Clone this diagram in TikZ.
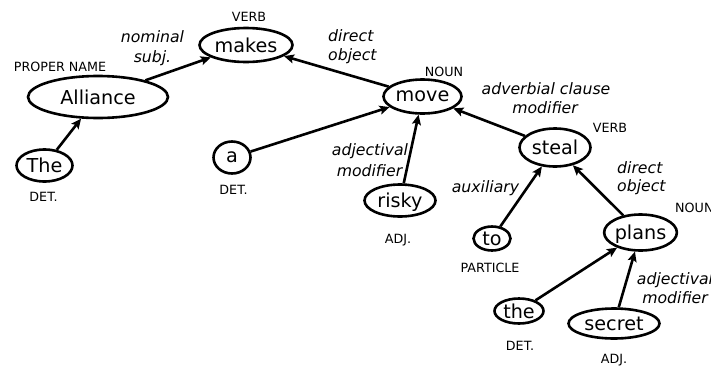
\documentclass[tikz,border=0pt]{standalone}
\usepackage{fontspec}
\setmainfont{DejaVu Sans}
\usetikzlibrary{shapes.geometric,arrows.meta}
\begin{document}
\begin{tikzpicture}[x=1pt,y=-1pt,
  word/.style={draw, ellipse, line width=2.6pt, inner sep=0pt, text depth=0pt, font=\fontsize{19.2}{23}\selectfont},
  postag/.style={inner sep=0pt, text depth=0pt, font=\fontsize{12.7}{15}\selectfont},
  rel/.style={inner sep=0pt, anchor=base, font=\fontsize{15.7}{19}\selectfont\itshape},
  dep/.style={-{Stealth[length=10pt,width=9pt,inset=2pt]}, line width=2.6pt}]
\useasboundingbox (0,0) rectangle (711,367);
% words
\node[word, minimum width=93pt, minimum height=34pt] (makes) at (246,45) {makes};
\node[word, minimum width=140pt, minimum height=42pt] (alliance) at (98,97) {Alliance};
\node[word, minimum width=56pt, minimum height=32pt] (The) at (44.5,165.5) {The};
\node[word, minimum width=37pt, minimum height=32pt] (a) at (232,157.5) {a};
\node[word, minimum width=78pt, minimum height=34pt] (move) at (422.5,96.5) {move};
\node[word, minimum width=71pt, minimum height=32pt] (risky) at (400,200.5) {risky};
\node[word, minimum width=71pt, minimum height=38pt] (steal) at (555,147.5) {steal};
\node[word, minimum width=37pt, minimum height=24pt] (to) at (492,238.5) {to};
\node[word, minimum width=72pt, minimum height=36pt] (plans) at (640.5,232.5) {plans};
\node[word, minimum width=49pt, minimum height=25pt] (the) at (519,311) {the};
\node[word, minimum width=91pt, minimum height=30pt] (secret) at (614,323.5) {secret};
% part-of-speech tags
\node[postag] (pmakes) at (249,17) {VERB};
\node[postag] (palliance) at (60,67) {PROPER NAME};
\node[postag] (pThe) at (43.5,196.5) {DET.};
\node[postag] (pa) at (233.5,190) {DET.};
\node[postag] (pmove) at (444,71.5) {NOUN};
\node[postag] (prisky) at (398,239) {ADJ.};
\node[postag] (psteal) at (610,128) {VERB};
\node[postag] (pto) at (490,267.5) {PARTICLE};
\node[postag, anchor=west] (pplans) at (675,207.5) {NOUN};
\node[postag] (pthe) at (520,346) {DET.};
\node[postag] (psecret) at (614,359) {ADJ.};
% relation labels
\node[rel] (r1a) at (152.5,42.5) {nominal};
\node[rel] (r1b) at (152.5,62) {subj.};
\node[rel, anchor=base west] (r2a) at (328,41) {direct};
\node[rel, anchor=base west] (r2b) at (328,60) {object};
\node[rel] (r3a) at (546,94.5) {adverbial clause};
\node[rel] (r3b) at (545,113.5) {modifier};
\node[rel] (r4a) at (370,155.5) {adjectival};
\node[rel] (r4b) at (369.5,176) {modifier};
\node[rel] (r5) at (485.5,192) {auxiliary};
\node[rel, anchor=base west] (r6a) at (617,173) {direct};
\node[rel, anchor=base west] (r6b) at (617,191.5) {object};
\node[rel] (r7a) at (675,284.5) {adjectival};
\node[rel] (r7b) at (675,303) {modifier};
% dependencies
\draw[dep] (alliance) -- (makes);
\draw[dep] (The) -- (alliance);
\draw[dep] (move) -- (makes);
\draw[dep] (a) -- (move);
\draw[dep] (risky) -- (move);
\draw[dep] (steal) -- (move);
\draw[dep] (to) -- (steal);
\draw[dep] (plans) -- (steal);
\draw[dep] (the) -- (plans);
\draw[dep] (secret) -- (plans);
\end{tikzpicture}
\end{document}
